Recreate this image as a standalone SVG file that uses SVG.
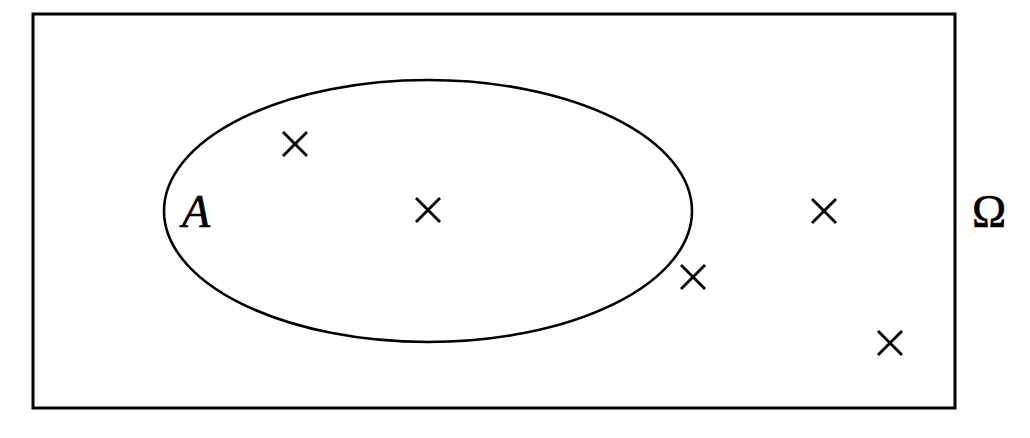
<svg xmlns="http://www.w3.org/2000/svg" width="1030" height="438" viewBox="0 0 1030 438">
<style>
.frame{fill:none;stroke:#000;stroke-width:3}
.set{fill:none;stroke:#000;stroke-width:2.6}
.pt{stroke:#000;stroke-width:2.8;stroke-linecap:butt}
.lbl{font-family:"Liberation Serif","Times New Roman",serif;font-size:46px;fill:#000;stroke:#000;stroke-width:0.6}
</style>
<defs>
<g id="x"><line class="pt" x1="-12" y1="-12" x2="12" y2="12"/><line class="pt" x1="-12" y1="12" x2="12" y2="-12"/></g>
</defs>
<g id="omega"><rect class="frame" x="33" y="14" width="922" height="394"/>
<text class="lbl" x="972" y="227">Ω</text></g>
<g id="setA"><ellipse class="set" cx="428" cy="211" rx="264" ry="131"/>
<text class="lbl" x="182" y="227" font-style="italic">A</text></g>
<g id="points">
<use href="#x" x="295" y="144"/>
<use href="#x" x="428" y="210"/>
<use href="#x" x="824" y="211"/>
<use href="#x" x="693" y="277"/>
<use href="#x" x="890" y="343"/>
</g>
</svg>
